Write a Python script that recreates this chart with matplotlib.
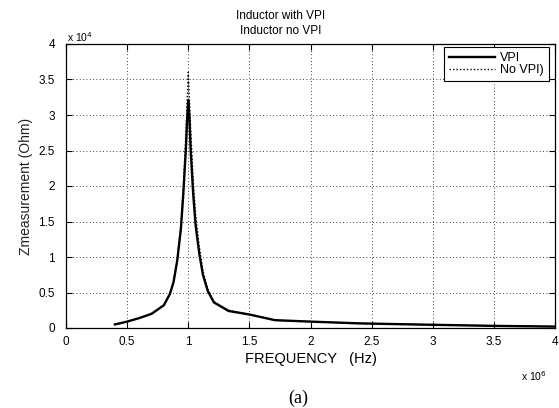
import matplotlib
matplotlib.use("Agg")
import matplotlib.pyplot as plt
from matplotlib.ticker import FuncFormatter, MultipleLocator

plt.rcParams['font.family'] = ['Liberation Sans', 'DejaVu Sans']

# frequency in MHz (x 1e6 Hz), impedance in x 1e4 Ohm
freq_vpi = [0.40, 0.50, 0.60, 0.70, 0.80, 0.85, 0.88, 0.91, 0.94, 0.96, 0.98, 0.99,
            1.00, 1.01, 1.02, 1.04, 1.06, 1.09, 1.12, 1.16, 1.21, 1.33, 1.50, 1.71,
            2.00, 2.40, 3.00, 3.50, 4.00]
z_vpi = [0.05, 0.09, 0.14, 0.20, 0.32, 0.48, 0.65, 0.95, 1.40, 1.90, 2.50, 2.90,
         3.21, 2.95, 2.50, 1.90, 1.45, 1.05, 0.75, 0.52, 0.36, 0.24, 0.19, 0.11,
         0.09, 0.065, 0.045, 0.03, 0.02]

freq_novpi = [0.40, 0.50, 0.60, 0.70, 0.80, 0.85, 0.88, 0.91, 0.94, 0.96, 0.98, 0.99,
              1.00, 1.01, 1.02, 1.04, 1.06, 1.09, 1.12, 1.16, 1.21, 1.33, 1.50, 1.71,
              2.00, 2.40, 3.00, 3.50, 4.00]
z_novpi = [0.05, 0.09, 0.14, 0.20, 0.32, 0.48, 0.66, 0.97, 1.45, 2.00, 2.70, 3.15,
           3.60, 3.20, 2.80, 2.10, 1.60, 1.15, 0.80, 0.55, 0.37, 0.25, 0.19, 0.11,
           0.09, 0.065, 0.045, 0.03, 0.02]

x_scale = 1e6
y_scale = 1e4

fig = plt.figure(figsize=(5.59, 4.08), dpi=100)
ax = fig.add_axes([66/559, 80/408, 489/559, 284/408])

ax.plot([f * x_scale for f in freq_vpi], [z * y_scale for z in z_vpi],
        color='black', lw=1.7, ls='-', label='VPI')
ax.plot([f * x_scale for f in freq_novpi], [z * y_scale for z in z_novpi],
        color='black', lw=1.0, ls=(0, (1, 1.5)), label='No VPI)')

ax.set_xlim(0, 4e6)
ax.set_ylim(0, 4e4)
ax.xaxis.set_major_locator(MultipleLocator(0.5e6))
ax.yaxis.set_major_locator(MultipleLocator(0.5e4))
ax.xaxis.set_major_formatter(FuncFormatter(lambda v, p: f"{v/x_scale:g}"))
ax.yaxis.set_major_formatter(FuncFormatter(lambda v, p: f"{v/y_scale:g}"))

ax.grid(True, color='black', ls=(0, (1, 3)), lw=0.6)
ax.tick_params(direction='in', top=True, right=True, length=4, width=0.8,
               labelsize=8.5, colors='black')
ax.tick_params(axis='x', pad=6)
ax.tick_params(axis='y', pad=8)
for s in ax.spines.values():
    s.set_linewidth(0.9)

ax.set_xlabel('FREQUENCY   (Hz)', fontsize=10.5, labelpad=3)
ax.set_ylabel('Zmeasurement (Ohm)', fontsize=10, labelpad=4, color='#222222')

fig.text(281/559, 1 - 16/408, 'Inductor with VPI', fontsize=8.5, ha='center', va='center')
fig.text(281/559, 1 - 31/408, 'Inductor no VPI', fontsize=8.5, ha='center', va='center')

fig.text(67/559, 1 - 37/408, r'x 10$^4$', fontsize=7.5, ha='left', va='center')
fig.text(521/559, 1 - 376/408, r'x 10$^6$', fontsize=7.5, ha='left', va='center')
fig.text(298/559, 1 - 398/408, '(a)', fontsize=13, ha='center', va='center',
         family='Liberation Serif')

leg = ax.legend(loc='upper right', fontsize=9, handlelength=3.7, frameon=True,
                fancybox=False, framealpha=1, edgecolor='black',
                bbox_to_anchor=(549/559, 1 - 47/408), bbox_transform=fig.transFigure,
                borderaxespad=0.0, borderpad=0.4, labelspacing=0.0, handletextpad=0.4)
leg.get_frame().set_linewidth(0.8)

fig.savefig('out.png', dpi=100)
